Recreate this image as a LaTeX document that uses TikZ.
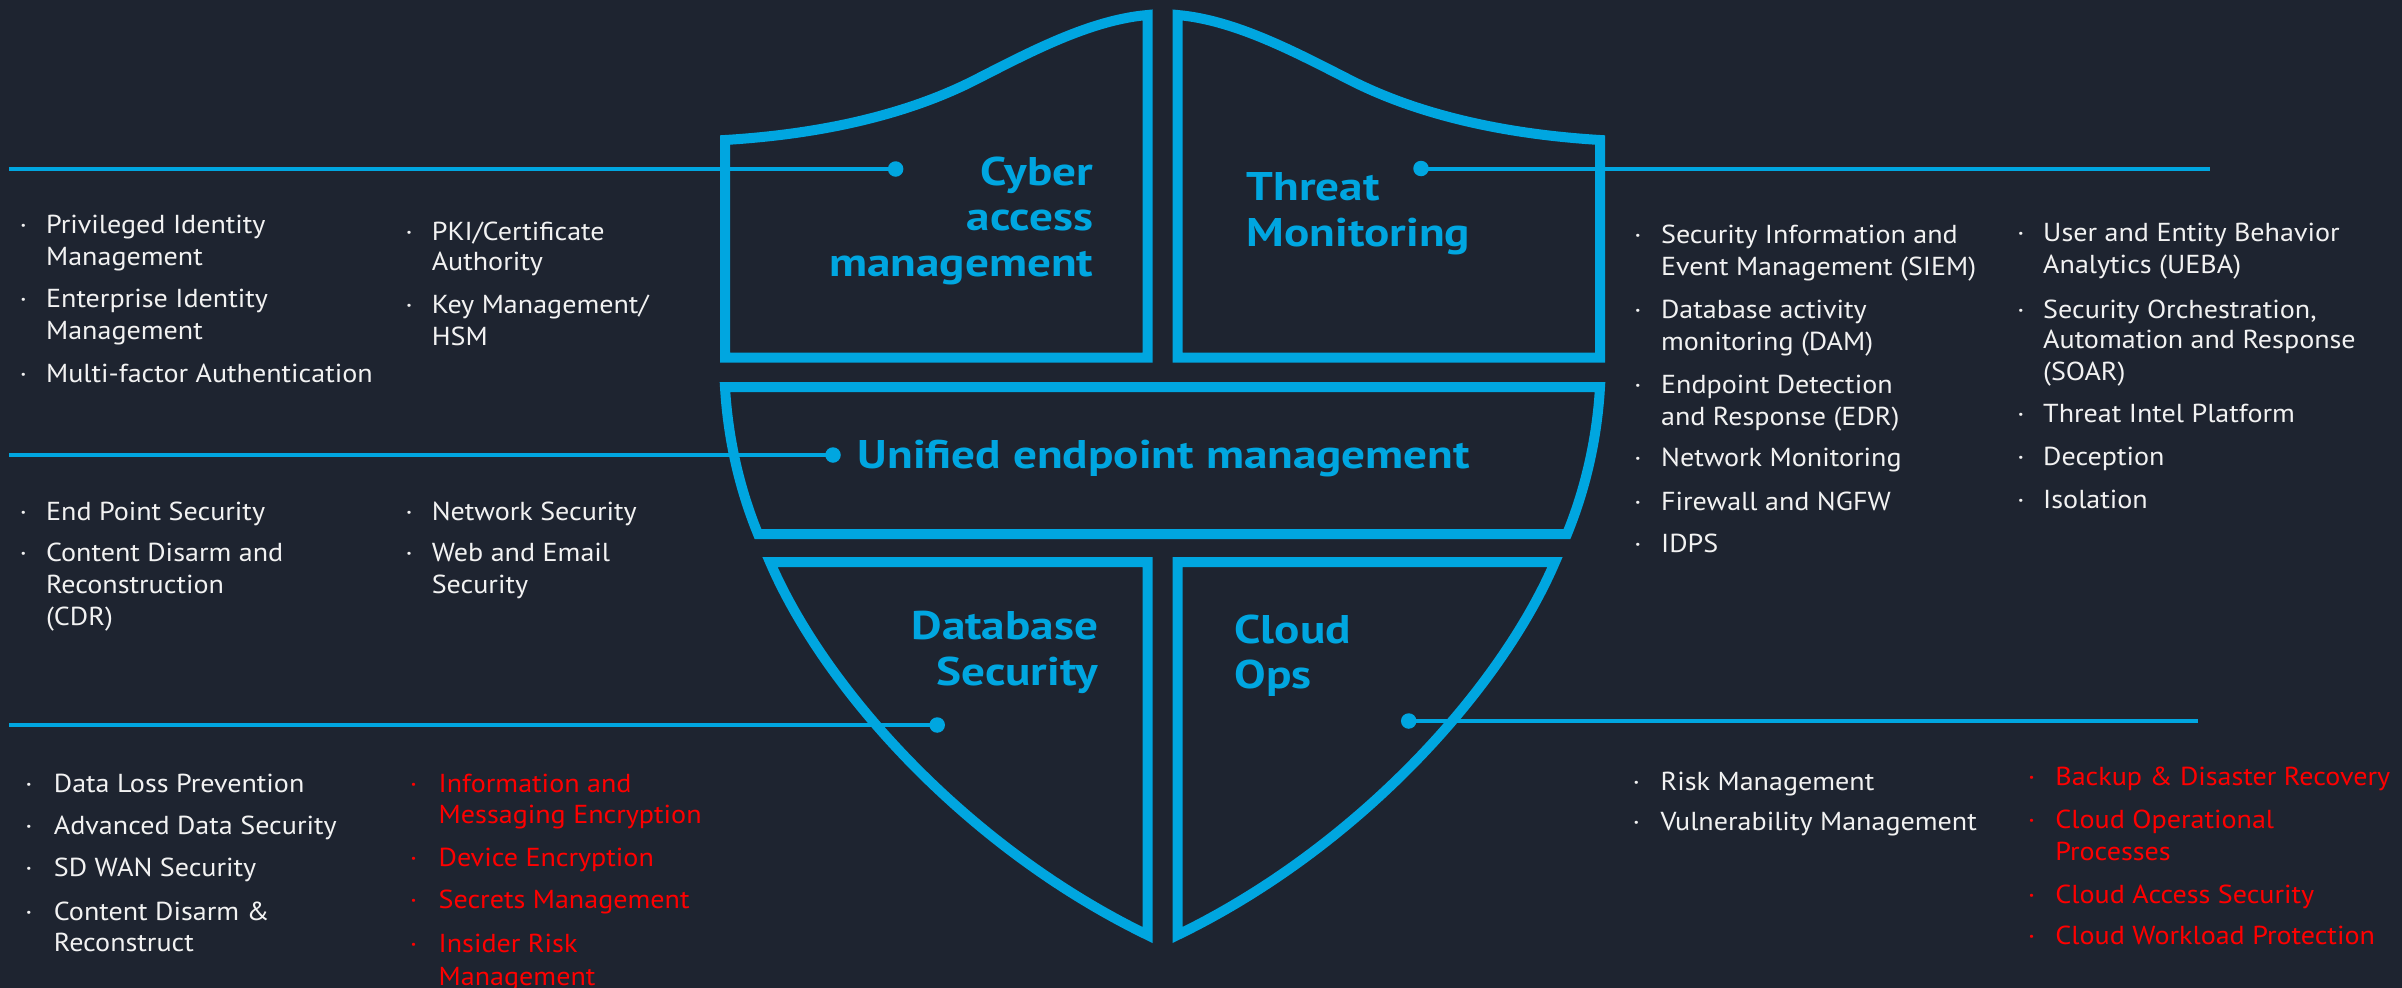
\documentclass[tikz,border=0pt]{standalone}
\usepackage{fontspec}
\setmainfont{PT Sans}
\newfontfamily\lstfont[FakeStretch=1.08]{PT Sans}
\newfontfamily\ttlfont[FakeStretch=1.18]{PT Sans Bold}
\definecolor{bg}{HTML}{1E2430}
\definecolor{sb}{HTML}{00A6E0}
\definecolor{wt}{HTML}{F2F2F2}
\definecolor{rd}{HTML}{FF0000}
\tikzset{
  shieldline/.style={draw=sb,line width=10pt,line join=miter},
  conn/.style={draw=sb,line width=4pt},
  dotnode/.style={circle,fill=sb,inner sep=0pt,minimum size=15.5pt},
  lst/.style={text=wt,font=\lstfont\fontsize{26}{31}\selectfont,inner sep=0pt},
  lstred/.style={lst,text=rd},
  ttl/.style={text=sb,font=\ttlfont\fontsize{40}{46}\selectfont,inner sep=0pt},
}
\newcommand\Bul[4][lst]{\node[#1,anchor=base west] (#2) at (#3-3.5,#4) {·};}
\newcommand\Txt[5][lst]{\node[#1,anchor=base west] (#2) at (#3,#4) {#5};}
\begin{document}
\begin{tikzpicture}[x=1pt,y=-1pt]
\path[use as bounding box,fill=bg] (0,0) rectangle (2402,988);

% shield
\draw[shieldline] (725,140) .. controls (840,133) and (920,108) .. (975,80)
   .. controls (1030,52) and (1090,20) .. (1147.5,15) -- (1147.5,357.5) -- (725,357.5) -- cycle;
\draw[shieldline] (1600,140) .. controls (1485,133) and (1405,108) .. (1350,80)
   .. controls (1295,52) and (1235,20) .. (1177.5,15) -- (1177.5,357.5) -- (1600,357.5) -- cycle;
\draw[shieldline] (725,387) -- (1600,387) .. controls (1597,440) and (1585,490) .. (1567,534)
   -- (758,534) .. controls (740,490) and (728,440) .. (725,387) -- cycle;
\draw[shieldline] (770,562) -- (1147.5,562) -- (1147.5,935) .. controls (968,848) and (825,690) .. (770,562) -- cycle;
\draw[shieldline] (1555,562) -- (1177.5,562) -- (1177.5,935) .. controls (1357,848) and (1500,690) .. (1555,562) -- cycle;

% connectors
\node[dotnode] (d1) at (895.6,169) {};
\node[dotnode] (d2) at (1421,168.5) {};
\node[dotnode] (d3) at (833,455) {};
\node[dotnode] (d4) at (937.2,725) {};
\node[dotnode] (d5) at (1408.7,721) {};
\coordinate (e1) at (9.3,169);
\coordinate (e2) at (2210,168.5);
\coordinate (e3) at (9.3,455);
\coordinate (e4) at (9.3,725);
\coordinate (e5) at (2197.7,721);
\draw[conn] (e1) -- (d1.center);
\draw[conn] (d2.center) -- (e2);
\draw[conn] (e3) -- (d3.center);
\draw[conn] (e4) -- (d4.center);
\draw[conn] (d5.center) -- (e5);

% titles
\node[ttl,anchor=base east] (t1a) at (1093.4,185) {Cyber};
\node[ttl,anchor=base east] (t1b) at (1093.4,230) {access};
\node[ttl,anchor=base east] (t1c) at (1093.4,276) {management};
\node[ttl,anchor=base west] (t2a) at (1246.4,200) {Threat};
\node[ttl,anchor=base west] (t2b) at (1246.4,246.7) {Monitoring};
\node[ttl,anchor=base west] (t3) at (857.6,468.3) {Unified endpoint management};
\node[ttl,anchor=base east] (t4a) at (1098.2,639.3) {Database};
\node[ttl,anchor=base east] (t4b) at (1098.2,685) {Security};
\node[ttl,anchor=base west] (t5a) at (1234.2,643) {Cloud};
\node[ttl,anchor=base west] (t5b) at (1234.2,688) {Ops};

% top-left lists
\Bul{b11}{23}{233.3}\Txt{x11a}{45.9}{233.3}{Privileged Identity}\Txt{x11b}{45.9}{265}{Management}
\Bul{b12}{23}{307.7}\Txt{x12a}{45.9}{307.7}{Enterprise Identity}\Txt{x12b}{45.9}{339.3}{Management}
\Bul{b13}{23}{382.3}\Txt{x13a}{45.9}{382.3}{Multi-factor Authentication}
\Bul{b14}{408.6}{240}\Txt{x14a}{431.6}{240}{PKI/Certificate}\Txt{x14b}{431.6}{270.7}{Authority}
\Bul{b15}{408.6}{313.3}\Txt{x15a}{431.6}{313.3}{Key Management/}\Txt{x15b}{431.6}{345}{HSM}

% middle-left lists
\Bul{b21}{23}{520}\Txt{x21a}{45.9}{520}{End Point Security}
\Bul{b22}{23}{561}\Txt{x22a}{45.9}{561}{Content Disarm and}\Txt{x22b}{45.9}{593.3}{Reconstruction}\Txt{x22c}{45.9}{625}{(CDR)}
\Bul{b23}{408.6}{520}\Txt{x23a}{431.6}{520}{Network Security}
\Bul{b24}{408.6}{561}\Txt{x24a}{431.6}{561}{Web and Email}\Txt{x24b}{431.6}{593}{Security}

% bottom-left lists
\Bul{b31}{28.5}{792.7}\Txt{x31a}{53.7}{792.7}{Data Loss Prevention}
\Bul{b32}{28.5}{834.3}\Txt{x32a}{53.7}{834.3}{Advanced Data Security}
\Bul{b33}{28.5}{876.7}\Txt{x33a}{53.7}{876.7}{SD WAN Security}
\Bul{b34}{28.5}{920}\Txt{x34a}{53.7}{920}{Content Disarm \&}\Txt{x34b}{53.7}{951.7}{Reconstruct}
\Bul[lstred]{b35}{413.2}{792.7}\Txt[lstred]{x35a}{438.5}{792.7}{Information and}\Txt[lstred]{x35b}{438.5}{823.3}{Messaging Encryption}
\Bul[lstred]{b36}{413.2}{866.7}\Txt[lstred]{x36a}{438.5}{866.7}{Device Encryption}
\Bul[lstred]{b37}{413.2}{908.3}\Txt[lstred]{x37a}{438.5}{908.3}{Secrets Management}
\Bul[lstred]{b38}{413.2}{952.3}\Txt[lstred]{x38a}{438.5}{952.3}{Insider Risk}\Txt[lstred]{x38b}{438.5}{985}{Management}

% top-right lists
\Bul{b41}{1637.5}{243.3}\Txt{x41a}{1660.9}{243.3}{Security Information and}\Txt{x41b}{1660.9}{275}{Event Management (SIEM)}
\Bul{b42}{1637.5}{318.3}\Txt{x42a}{1660.9}{318.3}{Database activity}\Txt{x42b}{1660.9}{350}{monitoring (DAM)}
\Bul{b43}{1637.5}{393.3}\Txt{x43a}{1660.9}{393.3}{Endpoint Detection}\Txt{x43b}{1660.9}{425}{and Response (EDR)}
\Bul{b44}{1637.5}{466.7}\Txt{x44a}{1660.9}{466.7}{Network Monitoring}
\Bul{b45}{1637.5}{510}\Txt{x45a}{1660.9}{510}{Firewall and NGFW}
\Bul{b46}{1637.5}{552.7}\Txt{x46a}{1660.9}{552.7}{IDPS}
\Bul{b51}{2020.5}{241.7}\Txt{x51a}{2043}{241.7}{User and Entity Behavior}\Txt{x51b}{2043}{273.3}{Analytics (UEBA)}
\Bul{b52}{2020.5}{318.3}\Txt{x52a}{2043}{318.3}{Security Orchestration,}\Txt{x52b}{2043}{348.3}{Automation and Response}\Txt{x52c}{2043}{380}{(SOAR)}
\Bul{b53}{2020.5}{422.7}\Txt{x53a}{2043}{422.7}{Threat Intel Platform}
\Bul{b54}{2020.5}{465}\Txt{x54a}{2043}{465}{Deception}
\Bul{b55}{2020.5}{508.3}\Txt{x55a}{2043}{508.3}{Isolation}

% bottom-right lists
\Bul{b61}{1635.8}{790}\Txt{x61a}{1660.4}{790}{Risk Management}
\Bul{b62}{1635.8}{830.7}\Txt{x62a}{1660.4}{830.7}{Vulnerability Management}
\Bul[lstred]{b63}{2031.2}{785.7}\Txt[lstred]{x63a}{2055.2}{785.7}{Backup \& Disaster Recovery}
\Bul[lstred]{b64}{2031.2}{828.3}\Txt[lstred]{x64a}{2055.2}{828.3}{Cloud Operational}\Txt[lstred]{x64b}{2055.2}{860}{Processes}
\Bul[lstred]{b65}{2031.2}{903.3}\Txt[lstred]{x65a}{2055.2}{903.3}{Cloud Access Security}
\Bul[lstred]{b66}{2031.2}{944.3}\Txt[lstred]{x66a}{2055.2}{944.3}{Cloud Workload Protection}
\end{tikzpicture}
\end{document}
